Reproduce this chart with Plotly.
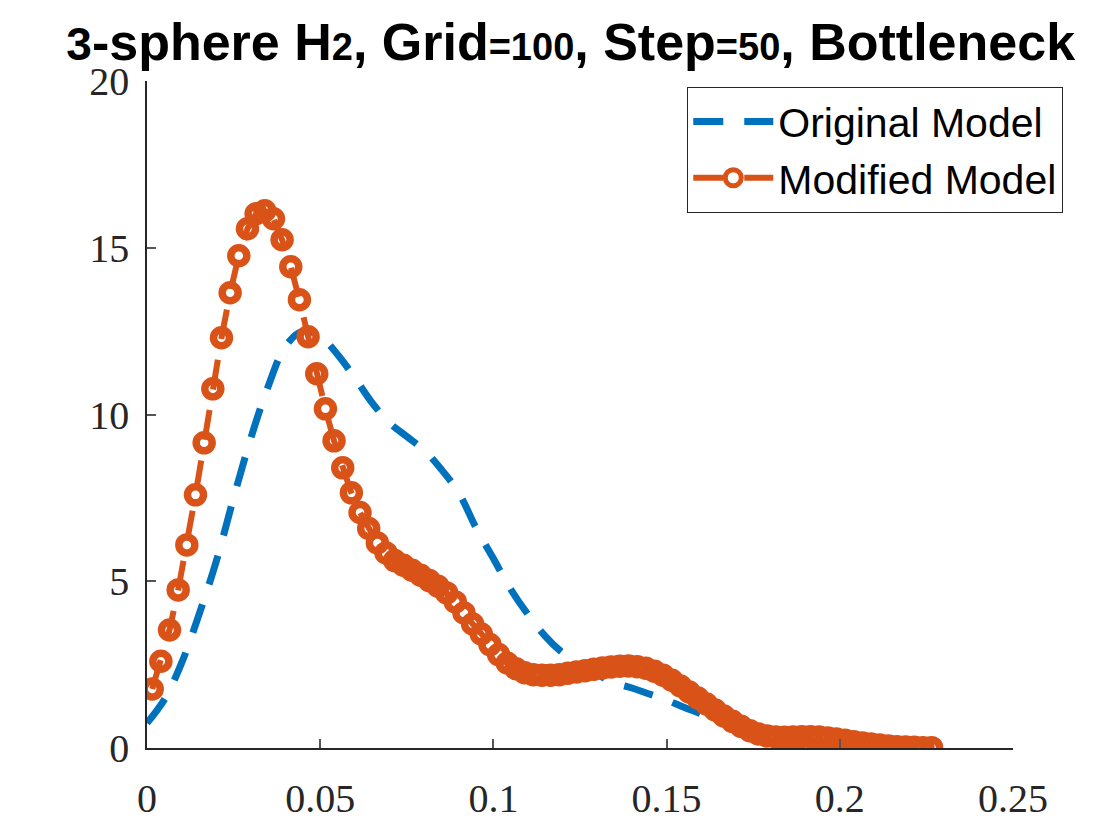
import plotly.graph_objects as go

# Original model (dashed blue)
orig_x = [0.0, 0.005, 0.01, 0.015, 0.02, 0.025, 0.03, 0.035, 0.04, 0.045,
          0.05, 0.055, 0.06, 0.065, 0.07, 0.075, 0.08, 0.085, 0.09, 0.095,
          0.1, 0.105, 0.11, 0.115, 0.12, 0.125, 0.13, 0.135, 0.14, 0.145,
          0.15, 0.155, 0.16, 0.165, 0.17, 0.175, 0.18, 0.185, 0.19, 0.195,
          0.2, 0.205, 0.21, 0.215, 0.22, 0.225]
orig_y = [0.75, 1.45, 2.55, 4.0, 5.6, 7.5, 9.3, 10.85, 12.05, 12.5,
          12.35, 11.8, 11.1, 10.35, 9.75, 9.34, 8.93, 8.35, 7.65, 6.6,
          5.68, 4.76, 4.0, 3.35, 2.85, 2.48, 2.2, 1.95, 1.8, 1.62,
          1.44, 1.22, 1.02, 0.8, 0.57, 0.37, 0.22, 0.12, 0.06, 0.03,
          0.02, 0.01, 0.01, 0.01, 0.01, 0.01]

# Modified model (dashed orange with open circles)
mod_x = [0.0015, 0.004, 0.0065, 0.009, 0.0115, 0.014, 0.0165, 0.019, 0.0215, 0.024,
         0.0265, 0.029, 0.0315, 0.034, 0.0365, 0.039, 0.0415, 0.044, 0.0465, 0.049,
         0.0515, 0.054, 0.0565, 0.059, 0.0615, 0.064, 0.0665, 0.069, 0.0715, 0.074,
         0.0765, 0.079, 0.0815, 0.084, 0.0865, 0.089, 0.0915, 0.094, 0.0965, 0.099,
         0.1015, 0.104, 0.1065, 0.109, 0.1115, 0.114, 0.1165, 0.119, 0.1215, 0.124,
         0.1265, 0.129, 0.1315, 0.134, 0.1365, 0.139, 0.1415, 0.144, 0.1465, 0.149,
         0.1515, 0.154, 0.1565, 0.159, 0.1615, 0.164, 0.1665, 0.169, 0.1715, 0.174,
         0.1765, 0.179, 0.1815, 0.184, 0.1865, 0.189, 0.1915, 0.194, 0.1965, 0.199,
         0.2015, 0.204, 0.2065, 0.209, 0.2115, 0.214, 0.2165, 0.219, 0.2215, 0.224,
         0.2265]
mod_y = [1.77, 2.6, 3.54, 4.74, 6.09, 7.59, 9.15, 10.77, 12.3, 13.65,
         14.76, 15.57, 16.02, 16.11, 15.87, 15.24, 14.43, 13.44, 12.33, 11.22,
         10.17, 9.21, 8.4, 7.65, 7.06, 6.58, 6.15, 5.85, 5.62, 5.48,
         5.33, 5.18, 5.02, 4.85, 4.65, 4.38, 4.05, 3.72, 3.42, 3.1,
         2.8, 2.55, 2.38, 2.26, 2.2, 2.18, 2.18, 2.2, 2.24, 2.28,
         2.32, 2.36, 2.4, 2.43, 2.45, 2.46, 2.44, 2.39, 2.3, 2.18,
         2.03, 1.86, 1.68, 1.5, 1.32, 1.14, 0.96, 0.8, 0.65, 0.52,
         0.42, 0.36, 0.33, 0.32, 0.33, 0.34, 0.34, 0.33, 0.3, 0.27,
         0.23, 0.19, 0.15, 0.12, 0.09, 0.06, 0.04, 0.03, 0.02, 0.01,
         0.01]

x_ticks = [0, 0.05, 0.1, 0.15, 0.2, 0.25]
x_labels = ["0", "0.05", "0.1", "0.15", "0.2", "0.25"]
y_ticks = [0, 5, 10, 15, 20]

BLUE = "#0072BD"
ORANGE = "#D95319"

def sm(s, px=38):
    return "<span style='font-size:%dpx'>%s</span>" % (px, s)

title_text = (sm("3", 46) + "-sphere H" + sm("2") + ", Grid" + sm("=100")
              + ", Step" + sm("=50") + ", Bottleneck")

fig = go.Figure()
fig.add_trace(go.Scatter(
    x=orig_x, y=orig_y, mode="lines", name="Original Model",
    line=dict(color=BLUE, width=7, dash="30px,21px", shape="spline"),
))
fig.add_trace(go.Scatter(
    x=mod_x, y=mod_y, mode="lines+markers", name="Modified Model",
    line=dict(color=ORANGE, width=6, dash="30px,21px"),
    marker=dict(symbol="circle-open", size=16, color=ORANGE,
                line=dict(color=ORANGE, width=7.5)),
))

# page has an 8px body margin, so the figure is a bit smaller than the window
fig.update_layout(
    width=1112, height=832,
    margin=dict(l=139, r=107, t=73, b=92),
    paper_bgcolor="white", plot_bgcolor="white",
    title=dict(
        text=title_text,
        font=dict(family="Liberation Sans", size=52, color="black", weight="bold"),
        x=0.506, xanchor="center", xref="container",
        y=1 - 34 / 832, yanchor="middle", yref="container",
    ),
    legend=dict(
        x=1.0577, y=0.991, xanchor="right", yanchor="top",
        bgcolor="white", bordercolor="#262626", borderwidth=1.3,
        font=dict(family="Liberation Sans", size=41, color="black"),
        itemwidth=80, tracegroupgap=0,
    ),
    showlegend=True,
)

axis_font = dict(family="Liberation Serif", size=40, color="#262626")
fig.update_xaxes(
    range=[0, 0.25], tickvals=x_ticks, ticktext=x_labels,
    showline=True, linecolor="#262626", linewidth=1.5, mirror=False,
    ticks="inside", ticklen=9, tickcolor="#555555", tickwidth=1.5,
    showgrid=False, zeroline=False, tickfont=axis_font,
    ticklabelstandoff=14,
)
fig.update_yaxes(
    range=[0, 20], tickvals=y_ticks,
    showline=True, linecolor="#262626", linewidth=1.5, mirror=False,
    ticks="inside", ticklen=9, tickcolor="#555555", tickwidth=1.5,
    showgrid=False, zeroline=False, tickfont=axis_font,
    ticklabelstandoff=8,
)

fig.write_html("out.html")
